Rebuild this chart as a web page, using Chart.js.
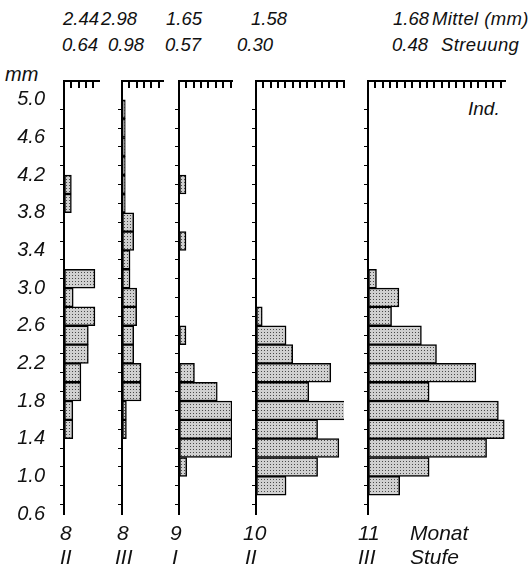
<!DOCTYPE html>
<html>
<head>
<meta charset="utf-8">
<script src="https://cdn.jsdelivr.net/npm/chart.js@4.4.1/dist/chart.umd.min.js"></script>
<style>
  body { margin: 0; background: #fff; width: 531px; height: 573px; overflow: hidden; position: relative;
         font-family: "Liberation Sans", Arial, sans-serif; font-style: italic; color: #111; }
  canvas { position: absolute; }
  .t { position: absolute; white-space: nowrap; line-height: 1; }
  .h { font-size: 18.5px; }
  .b { font-size: 21px; }
</style>
</head>
<body>

<!-- header: means and spread -->
<div class="t h" style="left:63px;top:10px">2.44</div>
<div class="t h" style="left:101px;top:10px">2.98</div>
<div class="t h" style="left:166px;top:10px">1.65</div>
<div class="t h" style="left:251px;top:10px">1.58</div>
<div class="t h" style="left:393px;top:10px">1.68</div>
<div class="t h" style="left:432px;top:10px;letter-spacing:0.4px">Mittel (mm)</div>
<div class="t h" style="left:62px;top:36px">0.64</div>
<div class="t h" style="left:108px;top:36px">0.98</div>
<div class="t h" style="left:165px;top:36px">0.57</div>
<div class="t h" style="left:237px;top:36px">0.30</div>
<div class="t h" style="left:392px;top:36px">0.48</div>
<div class="t h" style="left:441px;top:36px;letter-spacing:0.4px">Streuung</div>

<div class="t h" style="left:5px;top:64px;font-size:20px">mm</div>
<div class="t h" style="left:468px;top:99px;font-size:19px">Ind.</div>

<canvas id="p1"></canvas>
<canvas id="p2"></canvas>
<canvas id="p3"></canvas>
<canvas id="p4"></canvas>
<canvas id="p5"></canvas>

<!-- bottom: month and stage -->
<div class="t b" style="left:60px;top:522px">8</div>
<div class="t b" style="left:60px;top:546px">II</div>
<div class="t b" style="left:117px;top:522px">8</div>
<div class="t b" style="left:115px;top:546px">III</div>
<div class="t b" style="left:170px;top:522px">9</div>
<div class="t b" style="left:172px;top:546px">I</div>
<div class="t b" style="left:243px;top:522px">10</div>
<div class="t b" style="left:245px;top:546px">II</div>
<div class="t b" style="left:358px;top:522px">11</div>
<div class="t b" style="left:358px;top:546px">III</div>
<div class="t b" style="left:410px;top:522px">Monat</div>
<div class="t b" style="left:410px;top:546px">Stufe</div>

<script>
// DATA

// bin centres in mm (0.6-0.8 ... 4.8-5.0)
const binCenters = [0.7, 0.9, 1.1, 1.3, 1.5, 1.7, 1.9, 2.1, 2.3, 2.5, 2.7,
                    2.9, 3.1, 3.3, 3.5, 3.7, 3.9, 4.1, 4.3, 4.5, 4.7, 4.9];

// individuals per bin
const month8stage2  = [0, 0, 0, 0, 1.2, 1.2, 2.3, 2.3, 3.3, 3.3, 4.2, 1.25, 4.2, 0, 0, 0, 1.0, 1.0, 0, 0, 0, 0];
const month8stage3  = [0, 0, 0, 0, 0.6, 0.6, 2.6, 2.6, 1.6, 1.6, 2.0, 2.0, 1.1, 1.1, 1.6, 1.6, 0.45, 0.45, 0.45, 0.45, 0.45, 0.45];
const month9stage1  = [0, 0, 1.05, 7.2, 7.2, 7.2, 5.2, 2.1, 0, 0.95, 0, 0, 0, 0, 0.95, 0, 0, 0.95, 0, 0, 0, 0];
const month10stage2 = [0, 4.1, 8.4, 11.3, 8.4, 12.4, 7.2, 10.2, 5.0, 4.1, 0.85, 0, 0, 0, 0, 0, 0, 0, 0, 0, 0, 0];
const month11stage3 = [0, 4.3, 8.3, 16.1, 18.5, 17.7, 8.3, 14.65, 9.3, 7.25, 3.2, 4.2, 1.15, 0, 0, 0, 0, 0, 0, 0, 0, 0];

// length of each panel's top (Ind.) axis
const axisMax = [4.75, 5.6, 7.2, 12.0, 18.6];

// STYLE

const UNIT = 7.35;       // px per individual
const PLOT_H = 433;      // 5.2 mm .. 0.6 mm
const TOP_H = 10;
const BOTTOM_PAD = 14;
const axisLeft = [64, 122, 179, 256, 368];

// stippled fill like the print
const tile = document.createElement("canvas");
tile.width = 3;
tile.height = 3;
const tc = tile.getContext("2d");
tc.fillStyle = "#d0d0d0";
tc.fillRect(0, 0, 3, 3);
tc.fillStyle = "#4a4a4a";
tc.fillRect(0, 0, 1, 1);
const dots = tc.createPattern(tile, "repeat");

// tick marks of the top (Ind.) axis hang down into the panel, one per individual
const hangingTicks = {
    id: "hangingTicks",
    afterDraw(chart) {
        const sx = chart.scales.x;
        const ctx = chart.ctx;
        const top = Math.round(chart.chartArea.top);
        ctx.save();
        ctx.fillStyle = "#000";
        for (let v = 1; v <= sx.max + 0.01; v++) {
            const px = Math.round(Math.min(sx.getPixelForValue(v), chart.chartArea.right));
            ctx.fillRect(px - 1, top, 2, 7);
        }
        ctx.restore();
    }
};

function makePanel(id, values, xMax, axisX, showLabels) {
    const W = showLabels ? axisX : 10;
    const canvas = document.getElementById(id);
    canvas.width = Math.round(W + xMax * UNIT + 6);
    canvas.height = TOP_H + PLOT_H + BOTTOM_PAD;
    canvas.style.left = (axisX - W) + "px";
    canvas.style.top = (81 - TOP_H) + "px";

    new Chart(canvas, {
        type: "bar",
        data: {
            datasets: [{
                data: binCenters.map((c, i) => ({ x: values[i] || null, y: c })),
                backgroundColor: dots,
                borderColor: "#000",
                borderWidth: 1.5,
                borderSkipped: false,
                barPercentage: 1,
                categoryPercentage: 1
            }]
        },
        options: {
            indexAxis: "y",
            responsive: false,
            maintainAspectRatio: false,
            animation: false,
            events: [],
            layout: { padding: { top: 0, bottom: BOTTOM_PAD, left: 0, right: 6 } },
            plugins: {
                legend: { display: false },
                tooltip: { enabled: false }
            },
            scales: {
                x: {
                    type: "linear",
                    position: "top",
                    min: 0,
                    max: xMax,
                    afterFit: s => { s.height = TOP_H; s.paddingLeft = 0; s.paddingRight = 0; },
                    ticks: { stepSize: 1, display: false },
                    grid: { drawOnChartArea: false, drawTicks: false },
                    border: { color: "#000", width: 2 }
                },
                y: {
                    type: "linear",
                    offset: false,
                    min: 0.6,
                    max: 5.2,
                    afterFit: s => { s.width = W; s.paddingTop = 0; s.paddingBottom = 0; },
                    ticks: {
                        stepSize: 0.2,
                        autoSkip: false,
                        display: showLabels,
                        padding: 15,
                        color: "#111",
                        font: { family: "Liberation Sans", size: 20, style: "italic" },
                        callback: v => {
                            const k = Math.round(v * 10);
                            return (k % 4 === 2 && k <= 50) ? (k / 10).toFixed(1) : "";
                        }
                    },
                    grid: {
                        drawOnChartArea: false,
                        tickLength: 4,
                        lineWidth: 1,
                        color: ctx => (ctx.tick && ctx.tick.value > 5.1) ? "rgba(0,0,0,0)" : "#000"
                    },
                    border: { color: "#000", width: 2 }
                }
            }
        },
        plugins: [hangingTicks]
    });
}

makePanel("p1", month8stage2, axisMax[0], axisLeft[0], true);
makePanel("p2", month8stage3, axisMax[1], axisLeft[1], false);
makePanel("p3", month9stage1, axisMax[2], axisLeft[2], false);
makePanel("p4", month10stage2, axisMax[3], axisLeft[3], false);
makePanel("p5", month11stage3, axisMax[4], axisLeft[4], false);
</script>
</body>
</html>
